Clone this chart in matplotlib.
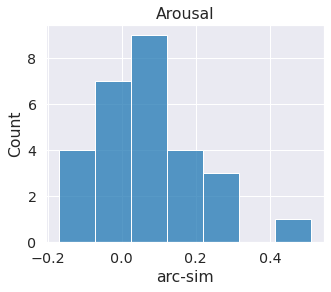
import matplotlib
matplotlib.use('Agg')
import matplotlib.pyplot as plt
import seaborn as sns
import numpy as np

# histogram
bin_edges = [-0.170, -0.073, 0.025, 0.122, 0.220, 0.317, 0.414, 0.512]
counts = [4, 7, 9, 4, 3, 0, 1]

sns.set_theme(style='darkgrid', font_scale=1.3)

centers = [(bin_edges[i] + bin_edges[i + 1]) / 2 for i in range(len(counts))]

fig, ax = plt.subplots(figsize=(331 / 72, 292 / 72), dpi=72)
sns.histplot(x=centers, weights=counts, bins=bin_edges, color='#1f77b4', ax=ax)
ax.set_xlabel('arc-sim')
ax.set_ylabel('Count')
ax.set_title('Arousal')
fig.subplots_adjust(left=0.139, right=0.979, top=0.914, bottom=0.171)
fig.savefig('out.png', dpi=72)
